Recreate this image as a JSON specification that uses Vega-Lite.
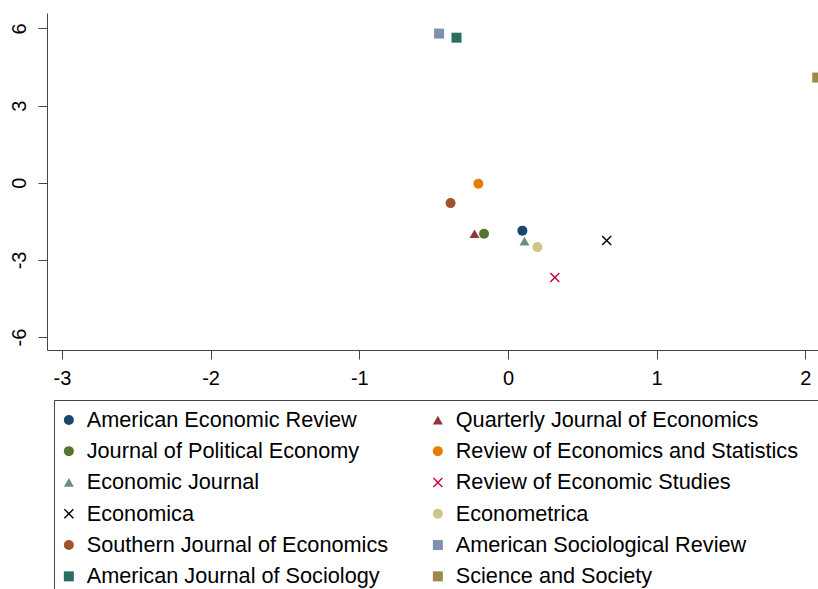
{
  "$schema": "https://vega.github.io/schema/vega-lite/v6.json",
  "width": 771,
  "height": 337,
  "autosize": {"type": "none"},
  "padding": {"left": 47, "top": 13, "right": 0, "bottom": 239},
  "background": "white",
  "config": {
    "view": {"stroke": null},
    "font": "Liberation Sans",
    "axis": {
      "grid": false,
      "domainColor": "#444444",
      "tickColor": "#444444",
      "labelColor": "#000000",
      "labelFont": "Liberation Sans",
      "labelFontSize": 20,
      "tickSize": 9,
      "title": null
    }
  },
  "data": {
    "values": [
      {"journal": "American Economic Review", "x": 0.097, "y": -1.86},
      {"journal": "Quarterly Journal of Economics", "x": -0.225, "y": -1.98},
      {"journal": "Journal of Political Economy", "x": -0.161, "y": -1.98},
      {"journal": "Review of Economics and Statistics", "x": -0.199, "y": -0.04},
      {"journal": "Economic Journal", "x": 0.111, "y": -2.27},
      {"journal": "Review of Economic Studies", "x": 0.315, "y": -3.68},
      {"journal": "Economica", "x": 0.664, "y": -2.24},
      {"journal": "Econometrica", "x": 0.198, "y": -2.5},
      {"journal": "Southern Journal of Economics", "x": -0.386, "y": -0.79},
      {"journal": "American Sociological Review", "x": -0.463, "y": 5.8},
      {"journal": "American Journal of Sociology", "x": -0.346, "y": 5.64},
      {"journal": "Science and Society", "x": 2.08, "y": 4.09}
    ]
  },
  "mark": {"type": "point", "filled": true, "opacity": 1, "clip": false, "strokeWidth": 0},
  "encoding": {
    "x": {
      "field": "x", "type": "quantitative",
      "scale": {"domain": [-3.1, 2.085], "nice": false, "zero": false},
      "axis": {"values": [-3, -2, -1, 0, 1, 2], "labelPadding": 9,
        "labelExpr": "datum.value < 0 ? '-' + abs(datum.value) : '' + datum.value"}
    },
    "y": {
      "field": "y", "type": "quantitative",
      "scale": {"domain": [-6.5, 6.6], "nice": false, "zero": false},
      "axis": {"values": [-6, -3, 0, 3, 6], "labelAngle": 270, "labelAlign": "center", "labelBaseline": "bottom", "labelPadding": 9,
        "labelExpr": "datum.value < 0 ? '-' + abs(datum.value) : '' + datum.value"}
    },
    "color": {
      "field": "journal", "type": "nominal",
      "scale": {
        "domain": ["American Economic Review", "Journal of Political Economy", "Economic Journal", "Economica", "Southern Journal of Economics", "American Journal of Sociology", "Quarterly Journal of Economics", "Review of Economics and Statistics", "Review of Economic Studies", "Econometrica", "American Sociological Review", "Science and Society"],
        "range": ["#1a476f", "#55752f", "#6e8e84", "#000000", "#a0522d", "#2d6e64", "#90353b", "#e37e00", "#c10534", "#d0c586", "#7d92aa", "#9c8847"]
      },
      "legend": {
        "title": " ",
        "titleOrient": "right",
        "titlePadding": 20,
        "titleFontSize": 10,
        "orient": "none",
        "legendX": 7,
        "legendY": 387,
        "columns": 2,
        "columnPadding": 43,
        "rowPadding": 8.3,
        "padding": 9,
        "strokeColor": "#444444",
        "labelFont": "Liberation Sans",
        "labelFontSize": 21.7,
        "labelColor": "#000000",
        "labelLimit": 500,
        "labelOffset": 7,
        "symbolOffset": -5,
        "symbolSize": 100,
        "symbolStrokeWidth": 0
      }
    },
    "shape": {
      "field": "journal", "type": "nominal",
      "scale": {
        "domain": ["American Economic Review", "Journal of Political Economy", "Economic Journal", "Economica", "Southern Journal of Economics", "American Journal of Sociology", "Quarterly Journal of Economics", "Review of Economics and Statistics", "Review of Economic Studies", "Econometrica", "American Sociological Review", "Science and Society"],
        "range": ["circle", "circle", "triangle-up", "M-1,-0.8L-0.8,-1L0,-0.2L0.8,-1L1,-0.8L0.2,0L1,0.8L0.8,1L0,0.2L-0.8,1L-1,0.8L-0.2,0Z", "circle", "square", "triangle-up", "circle", "M-1,-0.8L-0.8,-1L0,-0.2L0.8,-1L1,-0.8L0.2,0L1,0.8L0.8,1L0,0.2L-0.8,1L-1,0.8L-0.2,0Z", "circle", "square", "square"]
      }
    },
    "size": {
      "field": "journal", "type": "nominal",
      "scale": {
        "domain": ["American Economic Review", "Journal of Political Economy", "Economic Journal", "Economica", "Southern Journal of Economics", "American Journal of Sociology", "Quarterly Journal of Economics", "Review of Economics and Statistics", "Review of Economic Studies", "Econometrica", "American Sociological Review", "Science and Society"],
        "range": [100, 100, 190, 144, 100, 144, 190, 100, 144, 100, 144, 144]
      },
      "legend": null
    }
  }
}
